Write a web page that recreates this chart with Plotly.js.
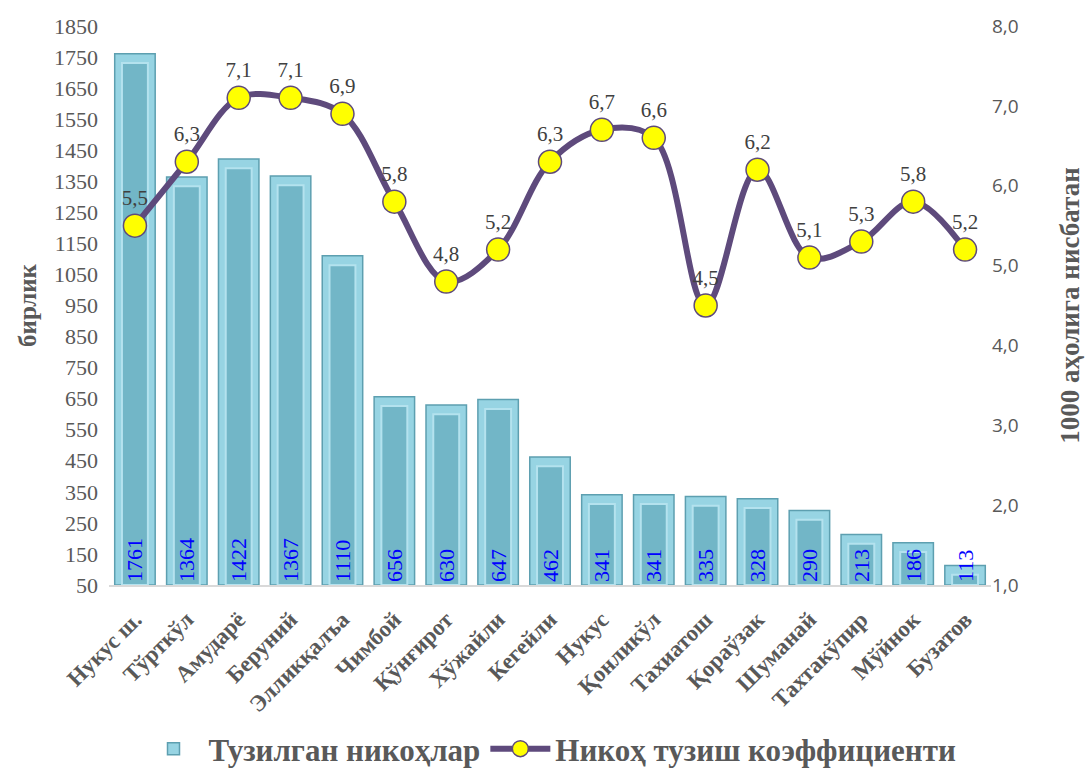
<!DOCTYPE html>
<html>
<head>
<meta charset="utf-8">
<script src="https://cdn.plot.ly/plotly-3.0.1.min.js"></script>
<style>html,body{margin:0;padding:0;background:#fff}#chart{width:1085px;height:776px}</style>
</head>
<body>
<div id="chart"></div>
<script>
const categories = ["Нукус ш.","Тўрткўл","Амударё","Беруний","Элликқалъа","Чимбой","Қўнғирот","Хўжайли","Кегейли","Нукус","Қонликўл","Тахиатош","Қораўзак","Шуманай","Тахтакўпир","Мўйнок","Бузатов"];
const marriages = [1761,1364,1422,1367,1110,656,630,647,462,341,341,335,328,290,213,186,113];
const rate = [5.5,6.3,7.1,7.1,6.9,5.8,4.8,5.2,6.3,6.7,6.6,4.5,6.2,5.1,5.3,5.8,5.2];
const leftTicks = [50,150,250,350,450,550,650,750,850,950,1050,1150,1250,1350,1450,1550,1650,1750,1850];
const rightTicks = [1,2,3,4,5,6,7,8];

const serif = "Liberation Serif, Times New Roman, serif";
const grey = "#595959";

const traces = [
  {
    type: "bar", name: "Тузилган никоҳлар",
    x: categories, y: marriages.map(v => v - 50), base: 50,
    marker: {color: "#97d4e3", line: {color: "#5d9fb0", width: 1.5}},
    width: 0.78, hoverinfo: "skip"
  },
  {
    type: "bar", showlegend: false,
    x: categories, y: marriages.map(v => Math.max(v - 50 - 30, 0)), base: 50,
    marker: {color: "#72b6c7", line: {color: "#b4e2ee", width: 2}},
    width: 0.5, hoverinfo: "skip"
  },
  {
    type: "bar", showlegend: false,
    x: categories, y: marriages.map(v => v - 50), base: 50,
    text: marriages.map(String),
    textposition: "inside", insidetextanchor: "start", textangle: -90,
    constraintext: "none", cliponaxis: false,
    textfont: {family: serif, size: 22, color: "#0000ff"},
    marker: {color: "rgba(0,0,0,0)", line: {width: 0}},
    width: 0.78, hoverinfo: "x+text"
  },
  {
    type: "scatter", mode: "lines+markers+text", name: "Никоҳ тузиш коэффициенти",
    x: categories, y: rate, yaxis: "y2",
    line: {color: "#5e4a7c", width: 6, shape: "spline", smoothing: 1},
    marker: {color: "#ffff00", size: 23, line: {color: "#5e4a7c", width: 1.5}},
    text: rate.map(v => v.toFixed(1).replace(".", ",")),
    textposition: "top center",
    textfont: {family: serif, size: 21, color: "#404040"},
    cliponaxis: false
  }
];

const layout = {
  width: 1085, height: 776,
  margin: {l: 109, r: 94, t: 26, b: 191},
  barmode: "overlay",
  paper_bgcolor: "#fff", plot_bgcolor: "#fff",
  separators: ", ",
  xaxis: {
    automargin: false, range: [-0.5, 16.5], autorange: false,
    tickangle: -45, showline: true, linecolor: "#d9d9d9", linewidth: 2,
    tickfont: {family: serif, size: 23, color: grey, weight: "bold"},
    ticklabelstandoff: 10,
    ticks: "", showgrid: false
  },
  yaxis: {
    automargin: false,
    range: [50, 1850], tickvals: leftTicks, ticktext: leftTicks.map(String),
    showgrid: false, zeroline: false, ticks: "",
    ticklabelstandoff: 10,
    tickfont: {family: serif, size: 22, color: grey},
    title: {text: "бирлик", font: {family: serif, size: 25, color: grey, weight: "bold"}, standoff: 10}
  },
  yaxis2: {
    automargin: false,
    overlaying: "y", side: "right", range: [1, 8], tickvals: rightTicks,
    ticktext: rightTicks.map(v => v.toFixed(1).replace(".", ",")),
    showgrid: false, zeroline: false, ticks: "",
    tickfont: {family: "Open Sans, Liberation Sans, sans-serif", size: 19, color: grey},
    title: {text: "1000 аҳолига нисбатан", font: {family: serif, size: 27, color: grey, weight: "bold"}, standoff: 42}
  },
  legend: {
    orientation: "h", x: 0.5, xanchor: "center",
    yref: "container", y: 0.0, yanchor: "bottom",
    font: {family: serif, size: 31, color: grey, weight: "bold"},
    itemwidth: 60
  },
  showlegend: true
};

Plotly.newPlot("chart", traces, layout, {displayModeBar: false, staticPlot: true});
</script>
</body>
</html>
